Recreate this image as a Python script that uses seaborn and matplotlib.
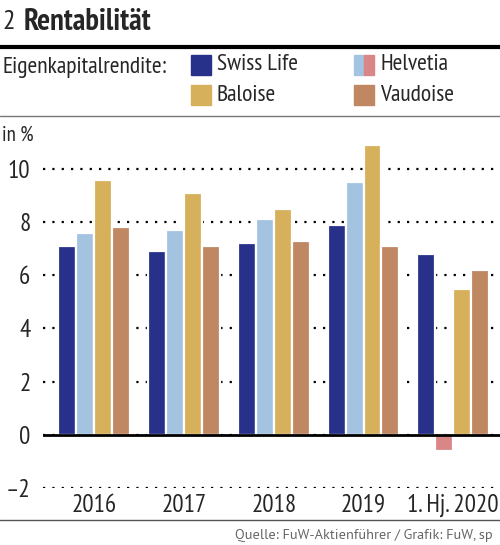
import pandas as pd
import matplotlib
matplotlib.use("Agg")
import matplotlib.pyplot as plt
import seaborn as sns
from matplotlib.patches import Rectangle
from matplotlib.lines import Line2D

# data (return on equity, in %)
periods = ["2016", "2017", "2018", "2019", "1. Hj. 2020"]
swiss_life = [7.1, 6.9, 7.2, 7.9, 6.8]
helvetia = [7.6, 7.7, 8.1, 9.5, -0.6]
baloise = [9.6, 9.1, 8.5, 10.9, 5.5]
vaudoise = [7.8, 7.1, 7.3, 7.1, 6.2]
companies = ["Swiss Life", "Helvetia", "Baloise", "Vaudoise"]

colors = {"Swiss Life": "#27318a", "Helvetia": "#a4c3e1",
          "Baloise": "#d6b05b", "Vaudoise": "#c08763"}
neg_color = "#d98687"

df = pd.DataFrame({"Swiss Life": swiss_life, "Helvetia": helvetia,
                   "Baloise": baloise, "Vaudoise": vaudoise}, index=periods)
df = df.reset_index().melt(id_vars="index", var_name="firma", value_name="roe")
df = df.rename(columns={"index": "jahr"})

sns.set_style("white")
plt.rcParams["font.family"] = ["PT Sans Narrow", "DejaVu Sans"]

W, H = 500, 545
fig = plt.figure(figsize=(W / 100, H / 100), dpi=100)


def fx(px):
    return px / W


def fy(py):
    return 1 - py / H


ymin, ymax = -2, 11.2
ax = fig.add_axes([fx(43), fy(488), 1 - fx(43), (488 - 137) / H])
sns.barplot(data=df, x="jahr", y="roe", hue="firma", hue_order=companies,
            palette=colors, width=0.8, gap=0, saturation=1,
            edgecolor="white", linewidth=1.6, legend=False, ax=ax, zorder=3)

# negative bars of Helvetia in pink
for bar in ax.containers[1]:
    if bar.get_height() < 0:
        bar.set_facecolor(neg_color)

ax.set_ylim(ymin, ymax)
ax.set_xlim(-0.57, 4.52)
ax.set_yticks([-2, 0, 2, 4, 6, 8, 10])
ax.set_yticklabels(["\u20132", "0", "2", "4", "6", "8", "10"])
ax.set_xlabel("")
ax.set_ylabel("")
for s in ax.spines.values():
    s.set_visible(False)
ax.grid(axis="y", color="black", linestyle=(0, (1, 3.2)), linewidth=1.6, zorder=1)
ax.axhline(0, color="black", linewidth=2, zorder=4)
ax.tick_params(axis="y", length=0, pad=9, labelsize=18)
ax.tick_params(axis="x", length=0, pad=4, labelsize=18)

# header
fig.text(fx(2), fy(22), "2", fontsize=20, va="center", ha="left")
fig.text(fx(24), fy(22), "Rentabilität", fontsize=22, fontweight="bold",
         va="center", ha="left")
fig.add_artist(Line2D([0, 1], [fy(47), fy(47)], color="black", linewidth=3))

# legend
fig.text(fx(2), fy(67), "Eigenkapitalrendite:", fontsize=17, va="center")
leg = [("Swiss Life", 191, 65), ("Baloise", 191, 95),
       ("Helvetia", 354, 65), ("Vaudoise", 354, 95)]
for name, x0, yc in leg:
    if name == "Helvetia":
        fig.add_artist(Rectangle((fx(x0), fy(yc + 10)), fx(10), 20 / H,
                                 color=colors[name], transform=fig.transFigure))
        fig.add_artist(Rectangle((fx(x0 + 10), fy(yc + 10)), fx(10), 20 / H,
                                 color=neg_color, transform=fig.transFigure))
    else:
        fig.add_artist(Rectangle((fx(x0), fy(yc + 10)), fx(20), 20 / H,
                                 color=colors[name], transform=fig.transFigure))
    fig.text(fx(x0 + 26), fy(yc), name, fontsize=17, va="center")
fig.add_artist(Line2D([0, 1], [fy(116), fy(116)], color="#777777", linewidth=1))

fig.text(fx(2), fy(135), "in %", fontsize=15, va="center")

# footer
fig.add_artist(Line2D([0, 1], [fy(520), fy(520)], color="#555555", linewidth=1))
fig.text(fx(235), fy(535), "Quelle: FuW-Aktienführer / Grafik: FuW, sp",
         fontsize=10.3, color="#666666", va="center", ha="left",
         family=["PT Sans", "DejaVu Sans"])

fig.savefig("out.png", dpi=100)
